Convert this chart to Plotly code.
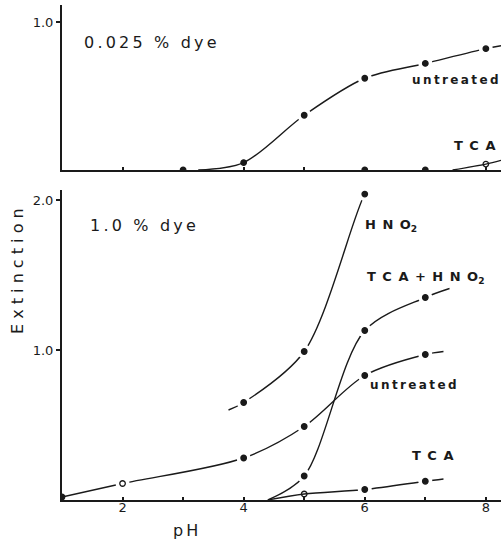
import plotly.graph_objects as go

# ---------------- data ----------------
# Top panel: 0.025 % dye
top_untr_ph = [4, 5, 6, 7, 8]
top_untr_ext = [0.05, 0.37, 0.62, 0.72, 0.82]
top_untr_curve_ph = [3.25, 4, 5, 6, 7, 8, 8.25]
top_untr_curve = [0.0, 0.05, 0.37, 0.62, 0.72, 0.82, 0.84]

top_tca_ph = [3, 6, 7, 8]
top_tca_ext = [0.0, 0.0, 0.0, 0.04]
top_tca_curve_ph = [7.45, 8, 8.25]
top_tca_curve = [0.0, 0.04, 0.065]

# Bottom panel: 1.0 % dye
hno2_ph = [4, 5, 6]
hno2_ext = [0.65, 0.99, 2.04]
hno2_curve_ph = [3.75, 4, 5, 6, 6.2]
hno2_curve = [0.60, 0.65, 0.99, 2.04, 2.15]

tcahno2_ph = [5, 6, 7]
tcahno2_ext = [0.16, 1.13, 1.35]
tcahno2_curve_ph = [4.4, 5, 6, 7, 7.4]
tcahno2_curve = [0.0, 0.16, 1.13, 1.35, 1.41]

untr_ph = [1, 2, 4, 5, 6, 7]
untr_ext = [0.02, 0.11, 0.28, 0.49, 0.83, 0.97]
untr_curve_ph = [1, 2, 4, 5, 6, 7, 7.3]
untr_curve = [0.02, 0.11, 0.28, 0.49, 0.83, 0.97, 0.99]

tca_ph = [5, 6, 7]
tca_ext = [0.04, 0.07, 0.125]
tca_curve_ph = [4.4, 5, 6, 7, 7.3]
tca_curve = [0.0, 0.04, 0.07, 0.125, 0.14]

x_tickvals = [1, 2, 3, 4, 5, 6, 7, 8]
x_ticktext = ["", "2", "", "4", "", "6", "", "8"]

INK = "#1a1a1a"
FONT = "DejaVu Sans"

W, H = 501, 543
L, R, T, B = 62, 0, 5, 43
PW, PH = W - L - R, H - T - B

fig = go.Figure()


def curve(xs, ys, xa, ya):
    fig.add_trace(go.Scatter(x=xs, y=ys, mode="lines", xaxis=xa, yaxis=ya,
                             line=dict(color=INK, width=1.4, shape="spline", smoothing=0.9),
                             hoverinfo="skip", showlegend=False))


def gaps(xs, ys, xa, ya):
    fig.add_trace(go.Scatter(x=xs, y=ys, mode="markers", xaxis=xa, yaxis=ya,
                             marker=dict(color="white", size=14, line=dict(width=0)),
                             hoverinfo="skip", showlegend=False))


def dots(xs, ys, xa, ya, symbols=None):
    fig.add_trace(go.Scatter(x=xs, y=ys, mode="markers", xaxis=xa, yaxis=ya,
                             marker=dict(color=INK, size=5.5,
                                         symbol=symbols if symbols else "circle",
                                         line=dict(color=INK, width=1.3)),
                             showlegend=False))


# top panel
curve(top_untr_curve_ph, top_untr_curve, "x2", "y2")
curve(top_tca_curve_ph, top_tca_curve, "x2", "y2")
gaps(top_untr_ph[1:], top_untr_ext[1:], "x2", "y2")
dots(top_untr_ph, top_untr_ext, "x2", "y2")
dots(top_tca_ph, top_tca_ext, "x2", "y2", ["circle", "circle", "circle", "circle-open"])

# bottom panel
for cx, cy in [(hno2_curve_ph, hno2_curve), (tcahno2_curve_ph, tcahno2_curve),
               (untr_curve_ph, untr_curve), (tca_curve_ph, tca_curve)]:
    curve(cx, cy, "x", "y")
gaps(hno2_ph, hno2_ext, "x", "y")
gaps(tcahno2_ph, tcahno2_ext, "x", "y")
gaps(untr_ph[1:], untr_ext[1:], "x", "y")
gaps(tca_ph[1:], tca_ext[1:], "x", "y")
dots(hno2_ph, hno2_ext, "x", "y")
dots(tcahno2_ph, tcahno2_ext, "x", "y")
dots(untr_ph, untr_ext, "x", "y", ["circle", "circle-open", "circle", "circle", "circle", "circle"])
dots(tca_ph, tca_ext, "x", "y", ["circle-open", "circle", "circle"])

axis_common = dict(showline=True, linecolor=INK, linewidth=2, showgrid=False,
                   zeroline=False, tickcolor=INK, tickwidth=1.5,
                   tickfont=dict(family=FONT, size=13, color=INK))

fig.update_layout(
    width=W, height=H,
    margin=dict(l=L, r=R, t=T, b=B),
    paper_bgcolor="white", plot_bgcolor="white",
    showlegend=False,
    xaxis=dict(domain=[0, 1], range=[1, 8.25], anchor="y", tickvals=x_tickvals,
               ticktext=x_ticktext, ticks="inside", ticklen=3, ticklabelstandoff=-6,
               **axis_common),
    xaxis2=dict(domain=[0, 1], range=[1, 8.25], anchor="y2", tickvals=x_tickvals,
                showticklabels=False, ticks="inside", ticklen=3, **axis_common),
    yaxis=dict(domain=[0, 0.6263], range=[0, 2.067], anchor="x", tickvals=[1.0, 2.0],
               ticktext=["1.0", "2.0"], ticks="outside", ticklen=4, **axis_common),
    yaxis2=dict(domain=[0.6667, 1], range=[0, 1.115], anchor="x2", tickvals=[1.0],
                ticktext=["1.0"], ticks="outside", ticklen=4, **axis_common),
)

TS = "\u2009"   # thin space
EN = "\u2002"   # en space


def spaced(s, sep=TS):
    return sep.join(list(s))


HNO2 = "H" + EN + "N" + EN + "O<sub>2</sub>"
annots = [
    (spaced("0.025 % dye"), 82, 42, 16, False),
    (spaced("1.0 % dye"), 88, 225, 16, False),
    (spaced("untreated"), 410, 80, 12, True),
    (spaced("TCA", EN), 452, 146, 13, True),
    (HNO2, 363, 225, 13, True),
    (spaced("TCA", EN) + EN + "+" + EN + HNO2, 365, 277, 13, True),
    (spaced("untreated"), 368, 385, 12, True),
    (spaced("TCA", EN), 410, 455, 13, True),
]


def px2paper(px, py):
    return (px - L) / PW, (H - B - py) / PH


for text, px, py, size, bold in annots:
    ax, ay = px2paper(px, py)
    fig.add_annotation(x=ax, y=ay, xref="paper", yref="paper",
                       xanchor="left", yanchor="middle", showarrow=False,
                       text=("<b>%s</b>" % text) if bold else text,
                       font=dict(family=FONT, size=size, color=INK))

ax, ay = px2paper(17, 271)
fig.add_annotation(x=ax, y=ay, xref="paper", yref="paper", textangle=-90, showarrow=False,
                   text=spaced("Extinction", " "), xanchor="center", yanchor="middle",
                   font=dict(family=FONT, size=16, color=INK))
ax, ay = px2paper(185, 530)
fig.add_annotation(x=ax, y=ay, xref="paper", yref="paper", showarrow=False,
                   text="p" + TS + "H", xanchor="center", yanchor="middle",
                   font=dict(family=FONT, size=16, color=INK))

fig.write_html("out.html", config={"displayModeBar": False},
               post_script="document.body.style.margin='0';")
